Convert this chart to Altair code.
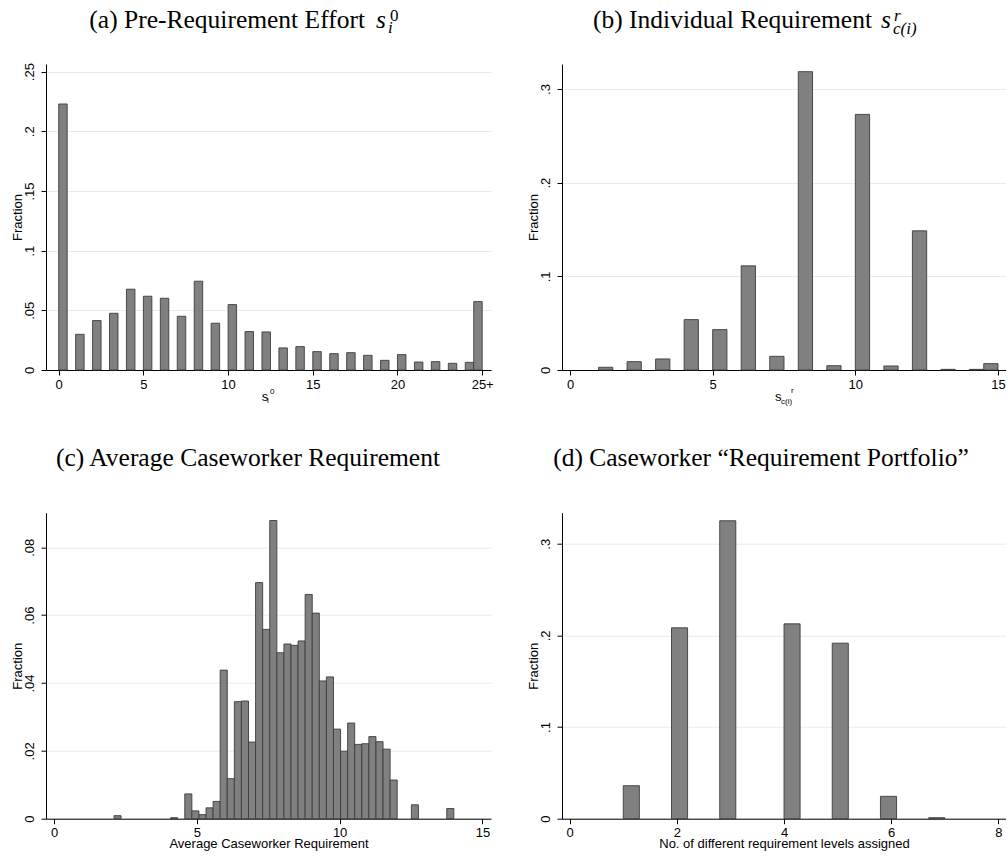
import altair as alt
import pandas as pd

# ---------------- data ----------------
# (a) Pre-requirement effort, discrete values 0..24 and top-coded "25+"
a_vals = list(range(0, 26))
a_frac = [0.2229, 0.0299, 0.0414, 0.0475, 0.0677, 0.0618, 0.0601, 0.0450, 0.0744,
          0.0392, 0.0548, 0.0322, 0.0319, 0.0185, 0.0196, 0.0154, 0.0137, 0.0145,
          0.0123, 0.0081, 0.0129, 0.0067, 0.0070, 0.0056, 0.0064, 0.0573]

# (b) Individual requirement, values 1..15
b_vals = list(range(1, 16))
b_frac = [0.0029, 0.0089, 0.0118, 0.0538, 0.0431, 0.1112, 0.0146, 0.3185, 0.0046,
          0.2729, 0.0043, 0.1486, 0.0007, 0.0007, 0.0068]

# (c) Average caseworker requirement: histogram bins (index of bin) and fractions
c_bin_start = 2.10
c_bin_width = 0.2479
c_bin_idx = [0, 8, 10, 11, 12, 13, 14, 15, 16, 17, 18, 19, 20, 21, 22, 23, 24, 25,
             26, 27, 28, 29, 30, 31, 32, 33, 34, 35, 36, 37, 38, 39, 42, 47]
c_frac = [0.0009, 0.0003, 0.0073, 0.0023, 0.0012, 0.0032, 0.0051, 0.0438, 0.0118,
          0.0345, 0.0347, 0.0226, 0.0696, 0.0558, 0.0879, 0.0489, 0.0515, 0.0511,
          0.0524, 0.0661, 0.0606, 0.0406, 0.0418, 0.0264, 0.0199, 0.0282, 0.0219,
          0.0221, 0.0242, 0.0227, 0.0205, 0.0114, 0.0041, 0.0030]

# (d) Number of different requirement levels assigned
d_bin_start = 1.0
d_bin_width = 0.3
d_bin_idx = [0, 3, 6, 10, 13, 16, 19]
d_frac = [0.0360, 0.2083, 0.3251, 0.2126, 0.1915, 0.0244, 0.0011]

# ---------------- tables ----------------
def discrete_table(vals, frac, top):
    starts = [v if v < top else top - 0.5 for v in vals]
    return pd.DataFrame({"start": starts, "end": [s + 0.5 for s in starts],
                         "frac": frac, "zero": 0.0})

def binned_table(idx, frac, s0, w):
    starts = [s0 + i * w for i in idx]
    return pd.DataFrame({"start": starts, "end": [s + w for s in starts],
                         "frac": frac, "zero": 0.0})

df_a = discrete_table(a_vals, a_frac, 25)
df_b = discrete_table(b_vals, b_frac, 15)
df_c = binned_table(c_bin_idx, c_frac, c_bin_start, c_bin_width)
df_d = binned_table(d_bin_idx, d_frac, d_bin_start, d_bin_width)

SANS = "Liberation Sans"
SERIF = "Liberation Serif"
H = 306
BAR_FILL = "#808080"
BAR_STROKE = "#3c3c3c"
GRID = "#E4EDEE"
TS = 25.5

YLAB = "datum.value == 0 ? '0' : substring(format(datum.value, '~g'), 1)"


def text_layer(txt, x, y, size, font=SERIF, style="normal", align="left"):
    return alt.Chart(alt.Data(values=[{}])).mark_text(
        font=font, fontSize=size, fontStyle=style, align=align,
        baseline="alphabetic", color="black"
    ).encode(x=alt.value(x), y=alt.value(y), text=alt.value(txt))


def panel(df, width, xdom, ydom, xticks, yticks, xtitle=None, xlabelexpr=None, extra=()):
    xaxis_kw = dict(values=xticks, grid=False, tickSize=5, tickColor="black",
                    domainColor="black", labelPadding=13, labelBaseline="alphabetic",
                    labelAngle=0, labelAlign="center", labelFont=SANS, labelFontSize=13,
                    labelColor="black", labelFlush=False, labelOverlap=False)
    if xlabelexpr:
        xaxis_kw["labelExpr"] = xlabelexpr
    if xtitle:
        xaxis_kw.update(title=xtitle, titleFont=SANS, titleFontSize=13,
                        titleFontWeight="normal", titleColor="black",
                        titleBaseline="alphabetic", titleY=28.8, titleX=width / 2,
                        titleAlign="center")
    else:
        xaxis_kw["title"] = None
    yaxis = alt.Axis(values=yticks, grid=True, gridColor=GRID, gridWidth=1,
                     tickSize=5, tickColor="black", domainColor="black",
                     labelExpr=YLAB, labelAngle=270, labelAlign="center",
                     labelBaseline="alphabetic", labelPadding=8, labelFont=SANS,
                     labelFontSize=13, labelColor="black", labelFlush=False,
                     labelOverlap=False,
                     title="Fraction", titleFont=SANS, titleFontSize=13,
                     titleFontWeight="normal", titleColor="black", titleAngle=270,
                     titleBaseline="alphabetic", titleAlign="center",
                     titleX=-24.3, titleY=H / 2)
    bars = alt.Chart(df).mark_rect(fill=BAR_FILL, stroke=BAR_STROKE, strokeWidth=0.9).encode(
        x=alt.X("start:Q", scale=alt.Scale(domain=xdom, nice=False, zero=False),
                axis=alt.Axis(**xaxis_kw)),
        x2="end:Q",
        y=alt.Y("frac:Q", scale=alt.Scale(domain=ydom, nice=False, zero=False), axis=yaxis),
        y2="zero:Q",
    )
    return alt.layer(bars, *extra).properties(width=width, height=H)


# titles / math labels (positions relative to each panel's plot area)
ta = [
    text_layer("(a) Pre-Requirement Effort", 319, -36, TS, align="right"),
    text_layer("s", 330, -36, TS, style="italic"),
    text_layer("0", 344, -43, 17),
    text_layer("i", 342, -31, 17, style="italic"),
    text_layer("s", 215.7, 337, 13, font=SANS),
    text_layer("i", 221, 339, 8, font=SANS),
    text_layer("0", 224, 330, 8, font=SANS),
]
tb = [
    text_layer("(b) Individual Requirement", 310, -36, TS, align="right"),
    text_layer("s", 319, -36, TS, style="italic"),
    text_layer("r", 332, -43, 17, style="italic"),
    text_layer("c(i)", 331, -30, 17, style="italic"),
    text_layer("s", 213, 337, 13, font=SANS),
    text_layer("c(i)", 219, 340, 8, font=SANS),
    text_layer("r", 229, 329, 8, font=SANS),
]
tc = [text_layer("(c) Average Caseworker Requirement", 202, -46.7, TS, align="center")]
td = [text_layer("(d) Caseworker \u201cRequirement Portfolio\u201d", 199, -46.7, TS, align="center")]

pa = panel(df_a, 445, [-0.75, 25.52], [0, 0.2564], [0, 5, 10, 15, 20, 25],
           [0, 0.05, 0.1, 0.15, 0.2, 0.25],
           xlabelexpr="datum.value == 25 ? '25+' : datum.label", extra=ta)
pb = panel(df_b, 444, [-0.28, 15.28], [0, 0.3267], [0, 5, 10, 15],
           [0, 0.1, 0.2, 0.3], extra=tb)
pc = panel(df_c, 445, [-0.28, 15.30], [0, 0.0902], [0, 5, 10, 15],
           [0, 0.02, 0.04, 0.06, 0.08], xtitle="Average Caseworker Requirement", extra=tc)
pd_ = panel(df_d, 444, [-0.144, 8.143], [0, 0.3339], [0, 2, 4, 6, 8],
            [0, 0.1, 0.2, 0.3], xtitle="No. of different requirement levels assigned",
            extra=td)

chart = alt.concat(pa, pb, pc, pd_, columns=2,
                   spacing={"row": 142.7, "column": 71}, bounds="flush").properties(
    padding={"left": 11, "top": 7, "right": 0, "bottom": 0},
    background="white",
).configure_view(strokeWidth=0)

chart.save("out.html", embed_options={"renderer": "svg", "actions": False})
